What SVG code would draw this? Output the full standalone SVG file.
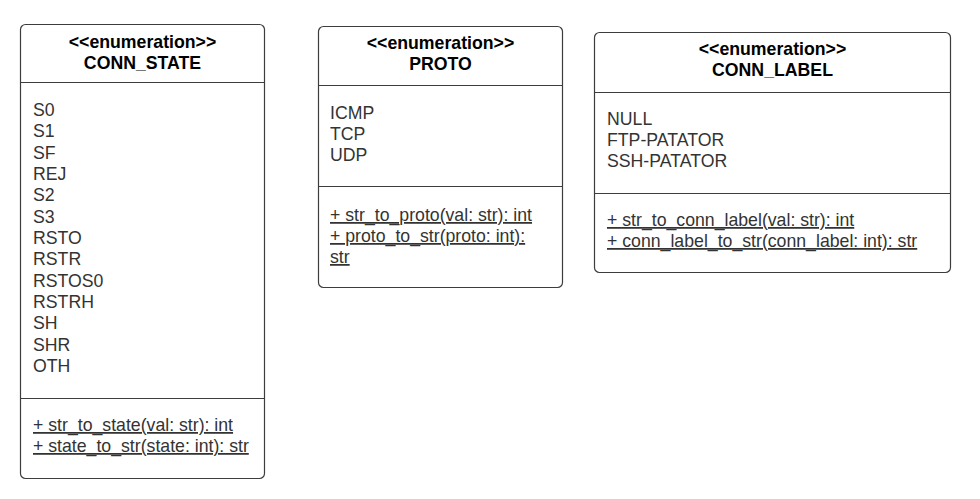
<svg xmlns="http://www.w3.org/2000/svg" width="980" height="499" viewBox="0 0 980 499">
<style>
.box{fill:#fff;stroke:#3d3d3d;stroke-width:1.2}
.div{stroke:#3d3d3d;stroke-width:1.2}
.hd{font-family:"Liberation Sans",Arial,sans-serif;font-size:17.7px;font-weight:bold;fill:#000;text-anchor:middle}
.it{font-family:"Liberation Sans",Arial,sans-serif;font-size:17.7px;fill:#333}
.m{font-family:"Liberation Sans",Arial,sans-serif;font-size:17.7px;fill:#333;text-decoration:underline}
</style>
<rect width="980" height="499" fill="#fff"/>
<g id="conn_state">
<rect class="box" x="20.5" y="24.5" width="244" height="454" rx="5"/>
<line class="div" x1="20.5" y1="82.5" x2="264.5" y2="82.5"/>
<line class="div" x1="20.5" y1="398.5" x2="264.5" y2="398.5"/>
<text class="hd" x="142.5" y="48">&lt;&lt;enumeration&gt;&gt;</text>
<text class="hd" x="142.5" y="69">CONN_STATE</text>
<text class="it" x="33" y="116">S0</text>
<text class="it" x="33" y="137.3">S1</text>
<text class="it" x="33" y="158.6">SF</text>
<text class="it" x="33" y="180">REJ</text>
<text class="it" x="33" y="201.3">S2</text>
<text class="it" x="33" y="222.6">S3</text>
<text class="it" x="33" y="244">RSTO</text>
<text class="it" x="33" y="265.3">RSTR</text>
<text class="it" x="33" y="286.6">RSTOS0</text>
<text class="it" x="33" y="308">RSTRH</text>
<text class="it" x="33" y="329.3">SH</text>
<text class="it" x="33" y="350.6">SHR</text>
<text class="it" x="33" y="372">OTH</text>
<text class="m" x="33" y="431">+ str_to_state(val: str): int</text>
<text class="m" x="33" y="452">+ state_to_str(state: int): str</text>
</g>
<g id="proto">
<rect class="box" x="318.5" y="26.5" width="244" height="261" rx="5"/>
<line class="div" x1="318.5" y1="85.5" x2="562.5" y2="85.5"/>
<line class="div" x1="318.5" y1="186.5" x2="562.5" y2="186.5"/>
<text class="hd" x="440.5" y="49">&lt;&lt;enumeration&gt;&gt;</text>
<text class="hd" x="440.5" y="70">PROTO</text>
<text class="it" x="330" y="119">ICMP</text>
<text class="it" x="330" y="140">TCP</text>
<text class="it" x="330" y="161">UDP</text>
<text class="m" x="330" y="221">+ str_to_proto(val: str): int</text>
<text class="m" x="330" y="242">+ proto_to_str(proto: int):</text>
<text class="m" x="330" y="263">str</text>
</g>
<g id="conn_label">
<rect class="box" x="594.5" y="32.5" width="356" height="240" rx="5"/>
<line class="div" x1="594.5" y1="92.5" x2="950.5" y2="92.5"/>
<line class="div" x1="594.5" y1="193.5" x2="950.5" y2="193.5"/>
<text class="hd" x="772.5" y="55">&lt;&lt;enumeration&gt;&gt;</text>
<text class="hd" x="772.5" y="76">CONN_LABEL</text>
<text class="it" x="607" y="125">NULL</text>
<text class="it" x="607" y="146">FTP-PATATOR</text>
<text class="it" x="607" y="167">SSH-PATATOR</text>
<text class="m" x="607" y="226">+ str_to_conn_label(val: str): int</text>
<text class="m" x="607" y="247">+ conn_label_to_str(conn_label: int): str</text>
</g>
<g id="connectors"></g>
</svg>
